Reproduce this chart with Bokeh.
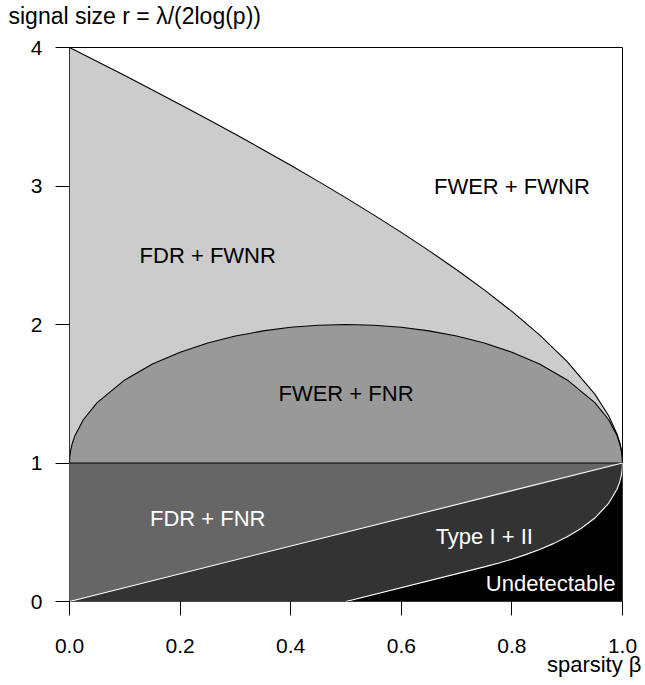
from bokeh.plotting import figure
from bokeh.models import ColumnDataSource, FixedTicker, Title, Range1d
from bokeh.core.properties import value
from bokeh.embed import file_html
from bokeh.resources import INLINE

# ---- data ----
beta_grid = [0, 0.0005, 0.002, 0.005, 0.01, 0.025, 0.05, 0.1, 0.15, 0.2, 0.25, 0.3, 0.35,
             0.4, 0.45, 0.5, 0.55, 0.6, 0.65, 0.7, 0.75, 0.8, 0.85, 0.9, 0.95, 0.975,
             0.99, 0.995, 0.998, 0.9995, 1]
# upper boundary (FWER + FWNR)
r_upper = [4.0, 3.9990, 3.9960, 3.9900, 3.97997, 3.94984, 3.89936, 3.79737, 3.69391, 3.58885,
           3.48205, 3.37332, 3.26245, 3.14919, 3.03324, 2.91421, 2.79164, 2.66491, 2.53322,
           2.39545, 2.25, 2.09443, 1.92460, 1.73246, 1.49721, 1.34123, 1.21, 1.14642,
           1.09144, 1.04522, 1.0]
# arched boundary (FWER + FNR)
r_arch = [1.0, 1.04471, 1.08935, 1.14107, 1.19900, 1.31225, 1.43589, 1.6, 1.71414, 1.8,
          1.86603, 1.91652, 1.95394, 1.97980, 1.99499, 2.0, 1.99499, 1.97980, 1.95394,
          1.91652, 1.86603, 1.8, 1.71414, 1.6, 1.43589, 1.31225, 1.19900, 1.14107,
          1.08935, 1.04471, 1.0]
# approximate recovery boundary r = beta
beta_diag = [0.0, 1.0]
r_diag = [0.0, 1.0]
# detection boundary
beta_det = [0.5, 0.75, 0.775, 0.8, 0.825, 0.85, 0.875, 0.9, 0.925, 0.95, 0.975, 0.99,
            0.995, 0.998, 0.9995, 1.0]
r_det = [0.0, 0.25, 0.27632, 0.30557, 0.33834, 0.37540, 0.41789, 0.46754, 0.52728,
         0.60279, 0.70877, 0.81, 0.86358, 0.91256, 0.95578, 1.0]

region_text = ["FWER + FWNR", "FDR + FWNR", "FWER + FNR", "FDR + FNR", "Type I + II", "Undetectable"]
region_x = [0.80, 0.25, 0.50, 0.25, 0.75, 0.87]
region_y = [3.0, 2.5, 1.5, 0.6, 0.47, 0.13]
region_color = ["black", "black", "black", "white", "white", "white"]

x_ticks = [0.0, 0.2, 0.4, 0.6, 0.8, 1.0]
x_tick_labels = ["0.0", "0.2", "0.4", "0.6", "0.8", "1.0"]
y_ticks = [0, 1, 2, 3, 4]
y_tick_labels = ["0", "1", "2", "3", "4"]

FONT = "Liberation Sans"

p = figure(width=645, height=685, output_backend="svg", toolbar_location=None,
           x_range=Range1d(0, 1), y_range=Range1d(0, 4),
           min_border_left=69, min_border_right=23, min_border_top=47, min_border_bottom=84)
p.background_fill_color = "white"
p.border_fill_color = "white"
p.grid.visible = False
p.outline_line_color = "black"
p.outline_line_width = 1

zeros = [0.0] * len(beta_grid)
ones = [1.0] * len(beta_grid)
src = ColumnDataSource(dict(x=beta_grid, up=r_upper, arch=r_arch, z=zeros, one=ones))
p.varea(x="x", y1="z", y2="up", source=src, fill_color="#cccccc")
p.varea(x="x", y1="z", y2="arch", source=src, fill_color="#999999")
p.varea(x="x", y1="z", y2="one", source=src, fill_color="#666666")
p.varea(x=beta_diag, y1=[0.0, 0.0], y2=r_diag, fill_color="#333333")
p.varea(x=beta_det, y1=[0.0] * len(beta_det), y2=r_det, fill_color="black")

p.line(x="x", y="up", source=src, line_color="black", line_width=1.1)
p.line(x="x", y="arch", source=src, line_color="black", line_width=1.1)
p.line(x="x", y="one", source=src, line_color="black", line_width=1.1)
p.line(x=beta_diag, y=r_diag, line_color="white", line_width=1.1)
p.line(x=beta_det, y=r_det, line_color="white", line_width=1.1)

p.text(x=region_x, y=region_y, text=region_text, text_color=region_color,
       text_align="center", text_baseline="middle", text_font=value(FONT),
       text_font_size="22px")

for ax in (p.xaxis[0], p.yaxis[0]):
    ax.axis_line_color = None
    ax.major_tick_line_color = "black"
    ax.major_tick_out = 14
    ax.major_tick_in = 0
    ax.minor_tick_line_color = None
    ax.major_label_text_font = FONT
    ax.major_label_text_font_size = "21px"
    ax.major_label_text_color = "black"

p.xaxis.ticker = FixedTicker(ticks=x_ticks)
p.xaxis.major_label_overrides = {t: l for t, l in zip(x_ticks, x_tick_labels)}
p.xaxis.major_label_standoff = 23
p.yaxis.ticker = FixedTicker(ticks=y_ticks)
p.yaxis.major_label_overrides = {t: l for t, l in zip(y_ticks, y_tick_labels)}
p.yaxis.major_label_orientation = "horizontal"
p.yaxis.major_label_standoff = 13

# spacer panel between frame and the top-left axis title
p.add_layout(Title(text=" ", standoff=0, text_font=FONT, text_font_size="13px",
                   text_color="white"), "above")
p.add_layout(Title(text="signal size r = \u03bb/(2log(p))", align="left", offset=-61,
                   standoff=0, vertical_align="top",
                   text_font=FONT, text_font_size="23px", text_font_style="normal",
                   text_color="black"), "above")
p.add_layout(Title(text="sparsity \u03b2", align="right", offset=-19,
                   standoff=-11, vertical_align="bottom",
                   text_font=FONT, text_font_size="22px", text_font_style="normal",
                   text_color="black"), "below")

open("out.html", "w").write(file_html(p, INLINE))
